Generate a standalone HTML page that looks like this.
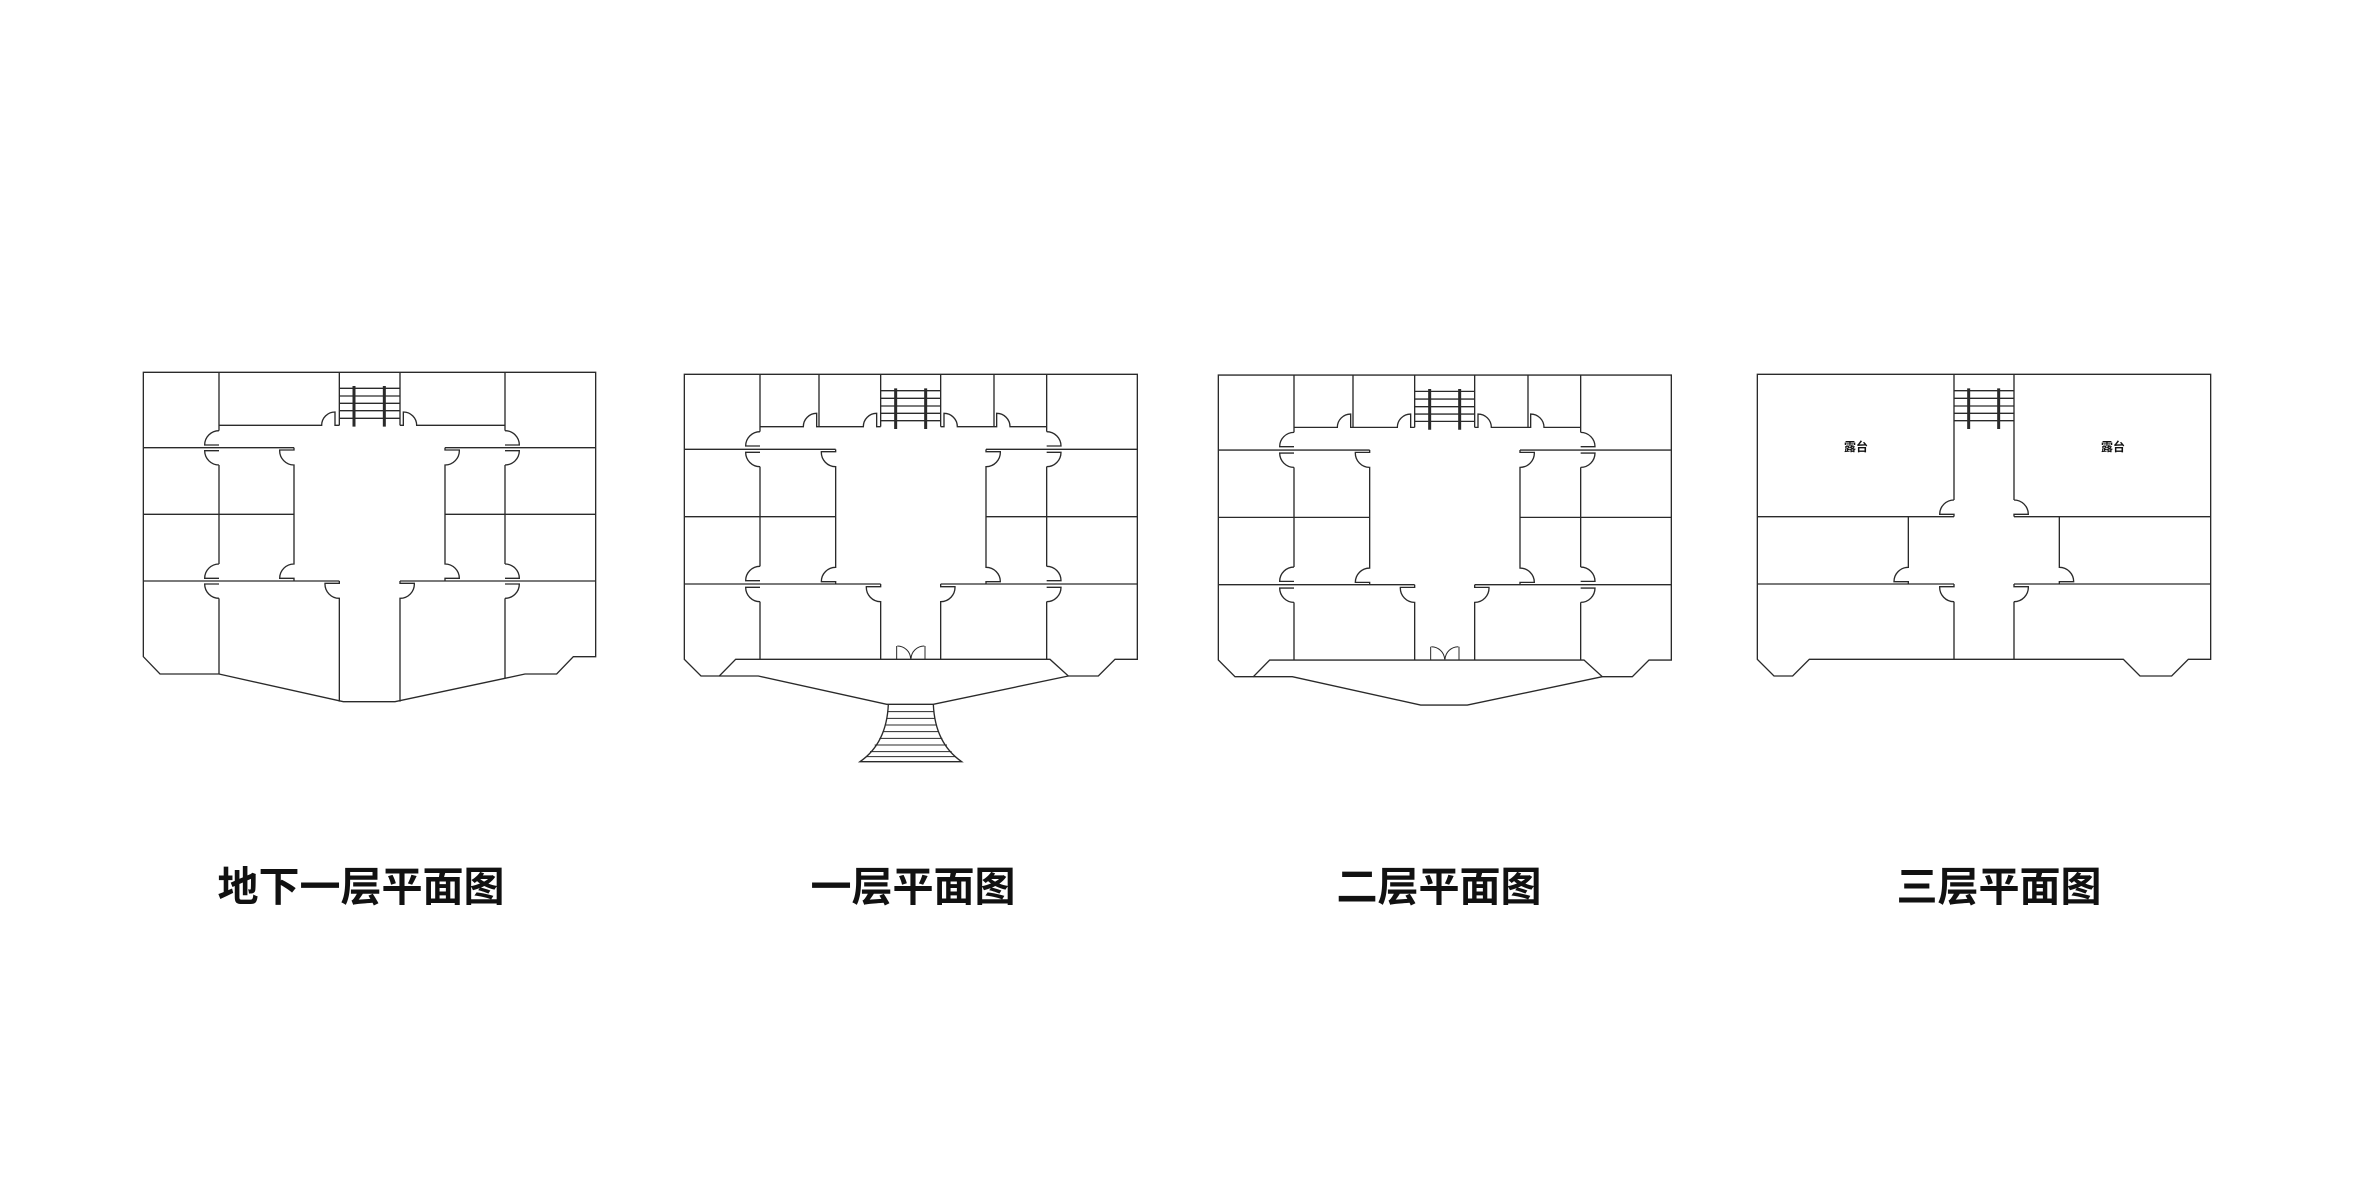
<!DOCTYPE html>
<html><head><meta charset="utf-8"><style>
html,body{margin:0;padding:0;background:#fff;}
svg{display:block;}
</style></head><body>
<svg width="2362" height="1181" viewBox="0 0 2362 1181" xmlns="http://www.w3.org/2000/svg">
<defs>
<g id="p23" fill="none" stroke="#2a2a2a" stroke-width="4">
  <path d="M43,43 V898 L93,948 H148 L197,898 H1140 L1195,948 H1285 L1335,898 H1402 V43 Z"/>
  <path d="M148,948 H265 L650,1033 H790 L1195,948"/>
  <!-- top rooms -->
  <path d="M270,43 V215 M447,43 V200 M632,43 V200 M812,43 V200 M972,43 V200 M1130,43 V215"/>
  <path d="M270,200 H400 A40,40 0 0 1 440,160 V200 H447 M447,200 H580 A40,40 0 0 1 620,160 V200 H632"/>
  <path d="M812,200 H822 V160 A40,40 0 0 1 862,200 H972 M972,200 H980 V160 A40,40 0 0 1 1020,200 H1130"/>
  <!-- stair -->
  <path d="M632,92 H812 M632,115 H812 M632,138 H812 M632,160 H812 M632,182 H812"/>
  <path d="M677,85 V207 M767,85 V207" stroke-width="9"/>
  <!-- horizontals -->
  <path d="M43,268 H497 M948,268 H1402 M43,470 H497 M948,470 H1402 M43,672 H632 M812,672 H1402"/>
  <!-- left wall -->
  <path d="M270,215 A43,43 0 0 0 227,258 H270 M270,320 A43,43 0 0 1 227,277 H270 M270,320 V619"/>
  <path d="M270,619 A43,43 0 0 0 227,662 H270 M270,725 A43,43 0 0 1 227,682 H270 M270,725 V898"/>
  <!-- right wall -->
  <path d="M1130,215 A43,43 0 0 1 1173,258 H1130 M1130,320 A43,43 0 0 0 1173,277 H1130 M1130,320 V619"/>
  <path d="M1130,619 A43,43 0 0 1 1173,662 H1130 M1130,725 A43,43 0 0 0 1173,682 H1130 M1130,725 V898"/>
  <!-- corridor -->
  <path d="M497,268 V275 H454 A43,43 0 0 0 497,320 V622 A43,43 0 0 0 454,665 H497 V672"/>
  <path d="M948,268 V275 H991 A43,43 0 0 1 948,320 V622 A43,43 0 0 1 991,665 H948 V672"/>
  <path d="M632,672 V680 H589 A43,43 0 0 0 632,725 V898 M812,672 V680 H855 A43,43 0 0 1 812,725 V898"/>
  <!-- entrance -->
  <path d="M680,858 V898 M765,858 V898 M682,858 A40,40 0 0 1 722,896 M763,858 A40,40 0 0 0 723,896" stroke-width="3"/>
</g>
</defs>

<!-- Plan 1 -->
<g transform="translate(130,360) scale(0.33333)" fill="none" stroke="#2a2a2a" stroke-width="4">
  <path d="M40,37 H1397 V890 H1330 L1280,942 H1185 L1125,955 L795,1025 H640 L267,942 H90 L40,890 Z"/>
  <path d="M267,37 V212 M628,37 V196 M810,37 V196 M1125,37 V212"/>
  <path d="M267,196 H575 A40,40 0 0 1 615,156 V196 H628 M810,196 H820 V156 A40,40 0 0 1 860,196 H1125"/>
  <path d="M628,85 H810 M628,108 H810 M628,130 H810 M628,152 H810 M628,175 H810"/>
  <path d="M672,78 V200 M763,78 V200" stroke-width="9"/>
  <path d="M40,263 H492 M945,263 H1397 M40,463 H492 M945,463 H1397 M40,663 H628 M810,663 H1397"/>
  <path d="M267,212 A43,43 0 0 0 224,255 H267 M267,315 A43,43 0 0 1 224,272 H267 M267,315 V612"/>
  <path d="M267,612 A43,43 0 0 0 224,655 H267 M267,715 A43,43 0 0 1 224,672 H267 M267,715 V942"/>
  <path d="M1125,212 A43,43 0 0 1 1168,255 H1125 M1125,315 A43,43 0 0 0 1168,272 H1125 M1125,315 V612"/>
  <path d="M1125,612 A43,43 0 0 1 1168,655 H1125 M1125,715 A43,43 0 0 0 1168,672 H1125 M1125,715 V955"/>
  <path d="M492,263 V270 H449 A43,43 0 0 0 492,315 V612 A43,43 0 0 0 449,655 H492 V663"/>
  <path d="M945,263 V270 H988 A43,43 0 0 1 945,315 V612 A43,43 0 0 1 988,655 H945 V663"/>
  <path d="M628,663 V670 H585 A43,43 0 0 0 628,715 V1025 M810,663 V670 H853 A43,43 0 0 1 810,715 V1025"/>
</g>

<!-- Plan 2 -->
<g transform="translate(670,360) scale(0.33333)">
  <use href="#p23"/>
  <g fill="none" stroke="#2a2a2a" stroke-width="4">
    <path d="M655,1033 Q650,1150 570,1205 H875 Q795,1150 790,1033"/>
    <path d="M653,1055 H792 M650,1075 H795 M645,1095 H800 M638,1115 H807 M628,1135 H817 M614,1155 H831 M600,1175 H845 M588,1190 H857" stroke-width="3"/>
  </g>
</g>

<!-- Plan 3 -->
<g transform="translate(1204,360.7) scale(0.33333)">
  <use href="#p23"/>
</g>

<!-- Plan 4 -->
<g transform="translate(1750,360) scale(0.33333)" fill="none" stroke="#2a2a2a" stroke-width="4">
  <path d="M22,43 H1382 V898 H1315 L1265,948 H1170 L1120,898 H178 L128,948 H72 L22,898 Z"/>
  <path d="M612,43 V420 M792,43 V420 M612,725 V898 M792,725 V898"/>
  <path d="M612,92 H792 M612,115 H792 M612,138 H792 M612,160 H792 M612,182 H792"/>
  <path d="M656,85 V207 M746,85 V207" stroke-width="9"/>
  <path d="M22,470 H612 M792,470 H1382 M22,672 H612 M792,672 H1382"/>
  <path d="M612,420 A43,43 0 0 0 569,463 H612 V470 M612,725 A43,43 0 0 1 569,680 H612 V672"/>
  <path d="M792,420 A43,43 0 0 1 835,463 H792 V470 M792,725 A43,43 0 0 0 835,680 H792 V672"/>
  <path d="M475,470 V622 A43,43 0 0 0 432,665 H475 V672 M928,470 V622 A43,43 0 0 1 971,665 H928 V672"/>
</g>
<g font-family="'Liberation Sans','Noto Sans CJK SC',sans-serif" font-weight="bold" fill="#111" text-anchor="middle">
  <text x="1856" y="451" font-size="12">露台</text>
  <text x="2113" y="451" font-size="12">露台</text>
  <text x="361" y="901" font-size="41">地下一层平面图</text>
  <text x="913" y="901" font-size="41">一层平面图</text>
  <text x="1439" y="901" font-size="41">二层平面图</text>
  <text x="1999" y="901" font-size="41">三层平面图</text>
</g>
</svg>
</body></html>
